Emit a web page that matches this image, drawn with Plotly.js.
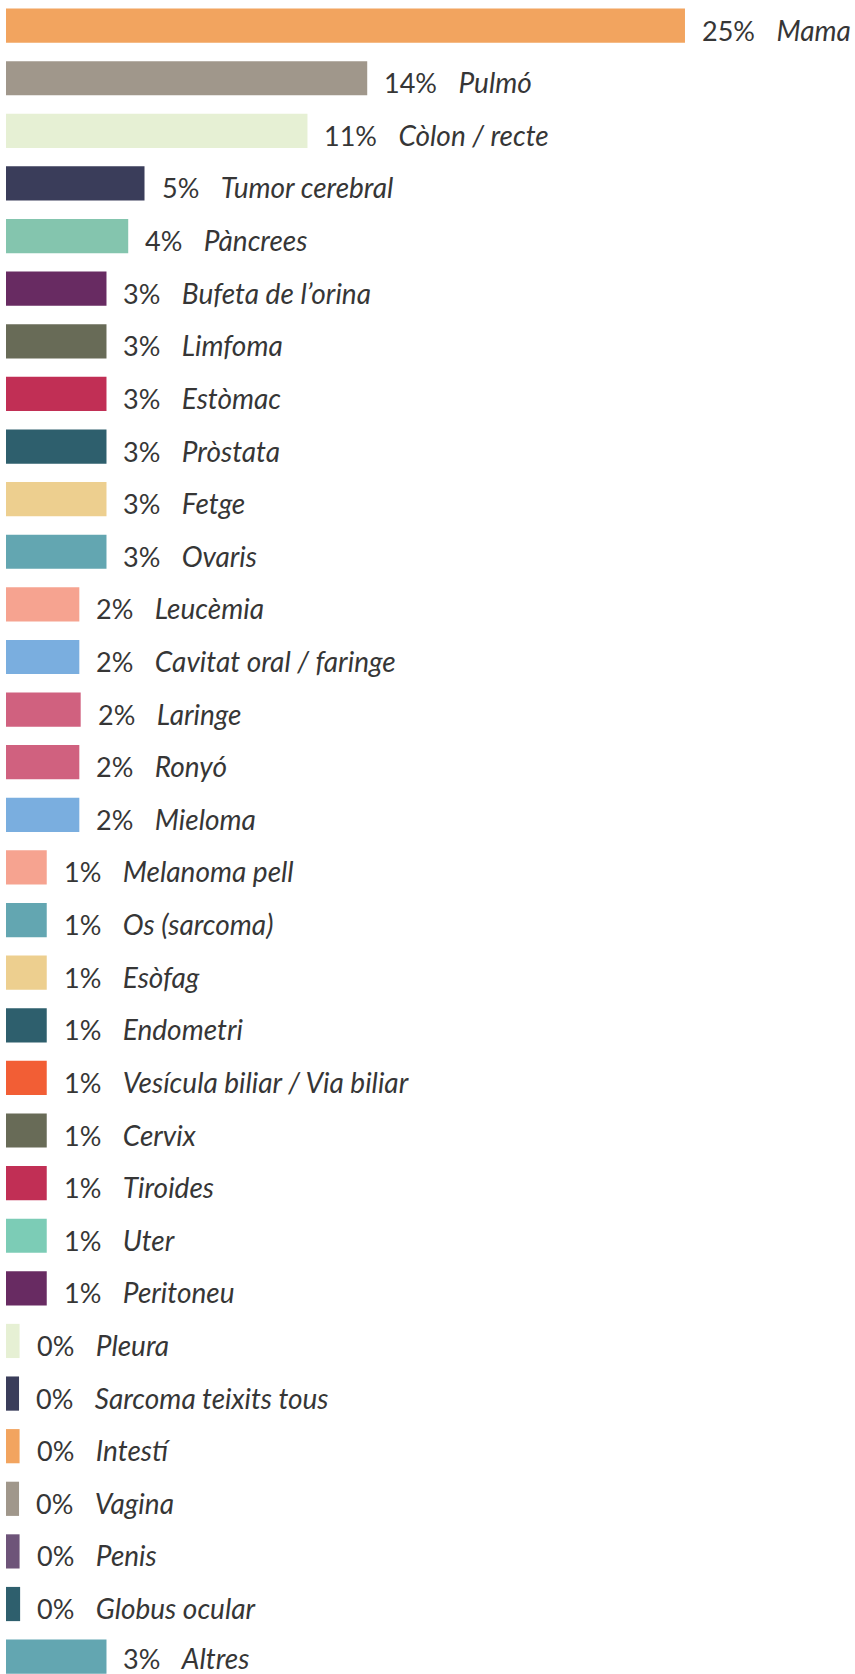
<!DOCTYPE html>
<html>
<head>
<meta charset="utf-8">
<script src="https://cdn.plot.ly/plotly-3.0.1.min.js"></script>
<style>
html,body{margin:0;padding:0;background:#fff;}
#chart{width:855px;height:1674px;}
</style>
</head>
<body>
<div id="chart"></div>
<script>
// Cancer types (Catalan), in display order top to bottom
const categories = [
  "Mama","Pulmó","Còlon / recte","Tumor cerebral","Pàncrees","Bufeta de l’orina",
  "Limfoma","Estòmac","Pròstata","Fetge","Ovaris","Leucèmia","Cavitat oral / faringe",
  "Laringe","Ronyó","Mieloma","Melanoma pell","Os (sarcoma)","Esòfag","Endometri",
  "Vesícula biliar / Via biliar","Cervix","Tiroides","Uter","Peritoneu","Pleura",
  "Sarcoma teixits tous","Intestí","Vagina","Penis","Globus ocular","Altres"
];
// Bar lengths as drawn (percent scale)
const values = [
  25.0, 13.3, 11.1, 5.1, 4.5, 3.7,
  3.7, 3.7, 3.7, 3.7, 3.7, 2.7, 2.7,
  2.75, 2.7, 2.7, 1.5, 1.5, 1.5, 1.5,
  1.5, 1.5, 1.5, 1.5, 1.5, 0.5,
  0.48, 0.5, 0.48, 0.5, 0.52, 3.7
];
// Printed percentage labels
const pctLabels = [
  "25%","14%","11%","5%","4%","3%",
  "3%","3%","3%","3%","3%","2%","2%",
  "2%","2%","2%","1%","1%","1%","1%",
  "1%","1%","1%","1%","1%","0%",
  "0%","0%","0%","0%","0%","3%"
];
const colors = [
  "#F2A45F","#A0978B","#E6F0D4","#3A3D5A","#84C5AE","#682B62",
  "#686B57","#C12F55","#2E5F6D","#EDCF8F","#63A6B1","#F6A390","#7AAEDF",
  "#D0617F","#D0617F","#7AAEDF","#F6A390","#63A6B1","#EDCF8F","#2E5F6D",
  "#F25E35","#686B57","#C12F55","#7CCCB6","#682B62","#E6F0D4",
  "#3A3D5A","#F2A45F","#A0978B","#6E5479","#2E5F6D","#63A6B1"
];

const sp = "\u00a0\u00a0\u00a0";
const trace = {
  type: "bar",
  orientation: "h",
  x: values,
  y: categories,
  marker: {color: colors, line: {width: 0}},
  hoverinfo: "none"
};

const last = categories.length - 1;
const annotations = categories.map((c, i) => ({
  x: values[i],
  y: c,
  xref: "x", yref: "y",
  xanchor: "left", yanchor: "middle",
  xshift: 15, yshift: i === last ? -1 : -4,
  showarrow: false,
  text: '<span style="font-size:27px">' + pctLabels[i] + '</span>' +
        sp + '<i>' + c + '</i>',
  font: {family: "Lato, sans-serif", size: 28, color: "#363636"}
}));

const layout = {
  width: 855, height: 1674,
  margin: {l: 0, r: 0, t: 0, b: 0, pad: 0},
  paper_bgcolor: "#ffffff",
  plot_bgcolor: "#ffffff",
  showlegend: false,
  bargap: 0.35,
  xaxis: {range: [-0.221, 31.26], visible: false, fixedrange: true},
  yaxis: {type: "category", range: [31.33, -0.487], visible: false, fixedrange: true},
  annotations: annotations
};

Plotly.newPlot("chart", [trace], layout, {staticPlot: true, displayModeBar: false});
</script>
</body>
</html>
